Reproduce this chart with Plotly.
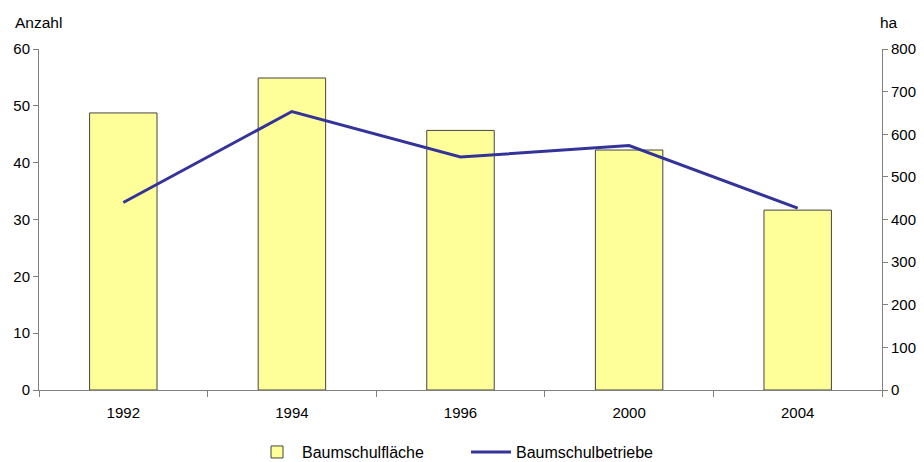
import plotly.graph_objects as go

years = ["1992", "1994", "1996", "2000", "2004"]
flaeche_ha = [650, 732, 609, 563, 422]
betriebe_anzahl = [33, 49, 41, 43, 32]

left_ticks = [0, 10, 20, 30, 40, 50, 60]
right_ticks = [0, 100, 200, 300, 400, 500, 600, 700, 800]

family = "Liberation Sans, Arial, sans-serif"
font = dict(family=family, size=15, color="#000000")
legend_font = dict(family=family, size=16, color="#000000")
title_font = dict(family=family, size=15.5, color="#000000")

fig = go.Figure()
fig.add_trace(go.Bar(
    x=years, y=flaeche_ha, name="Baumschulfläche", yaxis="y",
    width=0.4,
    marker=dict(color="#FFFF99", line=dict(color="#444444", width=1)),
))
fig.add_trace(go.Scatter(
    x=years, y=betriebe_anzahl, name="Baumschulbetriebe", yaxis="y2",
    mode="lines", line=dict(color="#333399", width=3),
))

fig.update_layout(
    width=916, height=454,
    margin=dict(l=31, r=42, t=41, b=72, autoexpand=False),
    paper_bgcolor="white", plot_bgcolor="white",
    font=font,
    showlegend=True,
    legend=dict(orientation="h", x=0.2527, xanchor="left", y=-0.182, yanchor="middle",
                font=legend_font, itemwidth=40, tracegroupgap=0,
                entrywidth=159, entrywidthmode="pixels"),
    xaxis=dict(type="category", showline=True, linecolor="#808080", linewidth=1,
               ticks="outside", tickson="boundaries", ticklen=6, tickcolor="#808080",
               ticklabelstandoff=9,
               showgrid=False, zeroline=False, range=[-0.5, 4.5], automargin=False),
    yaxis=dict(side="right", range=[0, 800], tickvals=right_ticks,
               showline=True, linecolor="#808080", linewidth=1,
               ticks="outside", ticklen=5, tickcolor="#808080",
               showgrid=False, zeroline=False, automargin=False),
    yaxis2=dict(side="left", overlaying="y", range=[0, 60], tickvals=left_ticks,
                showline=True, linecolor="#808080", linewidth=1,
                ticks="outside", ticklen=5, tickcolor="#808080",
                showgrid=False, zeroline=False, automargin=False),
    annotations=[
        dict(text="Anzahl", xref="paper", yref="paper", x=-0.031, y=1.079,
             xanchor="left", yanchor="middle", showarrow=False, font=title_font),
        dict(text="ha", xref="paper", yref="paper", x=0.995, y=1.079,
             xanchor="left", yanchor="middle", showarrow=False, font=title_font),
    ],
)

fig.write_html("out.html")
